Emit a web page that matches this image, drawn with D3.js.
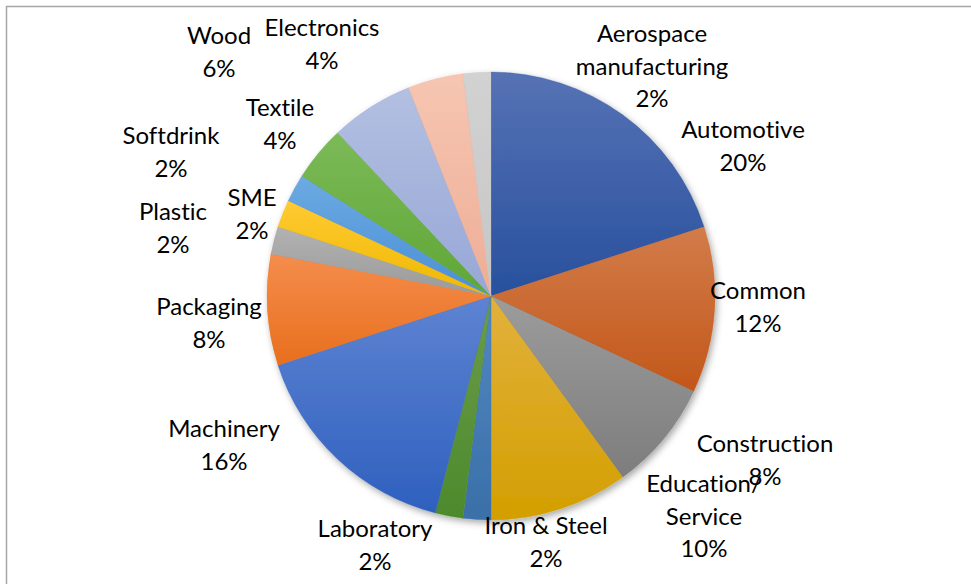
<!DOCTYPE html>
<html>
<head>
<meta charset="utf-8">
<script src="https://cdn.jsdelivr.net/npm/d3@7/dist/d3.min.js"></script>
<style>
  html, body { margin: 0; padding: 0; background: #fff; }
  svg { display: block; }
  text { font-variant-ligatures: none; }
</style>
</head>
<body>
<svg id="chart" width="971" height="584"></svg>
<script>
// ---- data (clockwise from 12 o'clock) ----
const categories = ["Automotive", "Common", "Construction", "Education/ Service", "Iron & Steel",
  "Laboratory", "Machinery", "Packaging", "Plastic", "SME", "Softdrink", "Textile", "Wood",
  "Electronics", "Aerospace manufacturing"];
const values = [20, 12, 8, 10, 2, 2, 16, 8, 2, 2, 2, 4, 6, 4, 2];
const labelLines = [["Automotive"], ["Common"], ["Construction"], ["Education/", "Service"], ["Iron & Steel"],
  ["Laboratory"], ["Machinery"], ["Packaging"], ["Plastic"], ["SME"], ["Softdrink"], ["Textile"], ["Wood"],
  ["Electronics"], ["Aerospace", "manufacturing"]];

// ---- styling / layout (not data) ----
const colorTop = ["#5672b5", "#d27c4a", "#9c9c9c", "#e2b13c", "#5289c2", "#6c9c4a", "#5e83d2", "#f58d4c",
  "#b2b2b2", "#ffca34", "#6caae2", "#7cba58", "#b3c0e2", "#f6c6b2", "#d2d2d2"];
const colorBot = ["#28509d", "#c3571a", "#7d7d7d", "#d39f00", "#3a6fa8", "#4c8a2c", "#2e60be", "#e86f1e",
  "#9a9a9a", "#efb800", "#4a8fd6", "#5fa636", "#97a7d6", "#eead96", "#c6c6c6"];
// label anchor (center x, first baseline) relative to pie centre
const labelOffsets = [[252, -158], [267, 3], [274, 156], [213, 196], [55, 238], [-116, 241], [-267, 141],
  [-282, 19], [-318, -76], [-239, -90], [-320, -152], [-211, -180], [-272, -252], [-169, -260], [161, -254]];

const W = 971, H = 584;
const cx = 491, cy = 296, R = 224;
const lineH = 32.5;

const svg = d3.select("#chart");
const defs = svg.append("defs");

const shadow = defs.append("filter").attr("id", "shadow")
  .attr("x", "-20%").attr("y", "-20%").attr("width", "140%").attr("height", "140%");
shadow.append("feDropShadow").attr("dx", 2).attr("dy", 3).attr("stdDeviation", 3.5)
  .attr("flood-color", "#000").attr("flood-opacity", 0.35);

categories.forEach((c, i) => {
  const g = defs.append("linearGradient").attr("id", "grad" + i)
    .attr("x1", 0).attr("y1", 0).attr("x2", 0).attr("y2", 1);
  g.append("stop").attr("offset", "0%").attr("stop-color", colorTop[i]);
  g.append("stop").attr("offset", "100%").attr("stop-color", colorBot[i]);
});

// chart border
svg.append("rect").attr("x", 6.5).attr("y", 6.5).attr("width", W + 20).attr("height", H + 20)
  .attr("fill", "none").attr("stroke", "#a6a6a6").attr("stroke-width", 1.5);

const pie = d3.pie().value(d => d).sort(null);
const arcs = pie(values);
const arc = d3.arc().innerRadius(0).outerRadius(R);
const total = d3.sum(values);
const pct = d3.format(".0%");

const gPie = svg.append("g").attr("transform", `translate(${cx},${cy})`);
const slices = gPie.append("g").attr("filter", "url(#shadow)");
slices.selectAll("path").data(arcs).join("path")
  .attr("d", arc)
  .attr("fill", (d, i) => `url(#grad${i})`)
  .attr("stroke", (d, i) => colorBot[i])
  .attr("stroke-width", 0.3);

const gLab = gPie.append("g")
  .attr("font-family", "Lato, 'Open Sans', sans-serif")
  .attr("font-size", 24)
  .attr("fill", "#000")
  .attr("text-anchor", "middle");

arcs.forEach((a, i) => {
  const lines = labelLines[i].concat([pct(values[i] / total)]);
  const t = gLab.append("text")
    .attr("x", labelOffsets[i][0]).attr("y", labelOffsets[i][1]);
  lines.forEach((ln, k) => {
    t.append("tspan").attr("x", labelOffsets[i][0]).attr("y", labelOffsets[i][1] + k * lineH).text(ln);
  });
});
</script>
</body>
</html>
